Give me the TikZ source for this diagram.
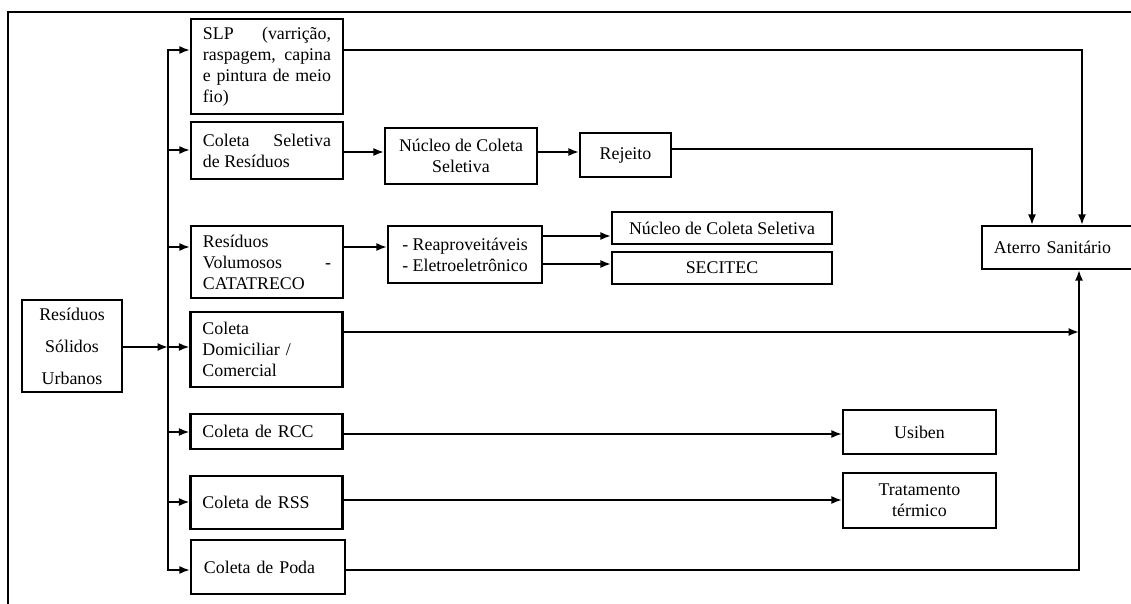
\documentclass[tikz,border=0pt]{standalone}
\usepackage{fontspec}
\setmainfont{Liberation Serif}
\usetikzlibrary{arrows.meta}

\begin{document}
\begin{tikzpicture}[x=0.025cm,y=-0.025cm,
        font=\fontsize{12.7}{15}\selectfont,
        caixa/.style={draw,line width=1.6pt,inner sep=0pt,align=center},
        ramo/.style={caixa,text width=3.2cm,inner xsep=0.3cm,align=left},
        seta/.style={line width=1.3pt,-{Latex[length=2.6mm,width=2mm]}},
        linha/.style={line width=1.3pt,line cap=rect}]
        \useasboundingbox (0,0) rectangle (1131,604);
        \clip (0,0) rectangle (1131,604);
        \draw[line width=0.9pt] (8,12) rectangle (1150,620);

        \node[caixa,minimum width=2.5cm,minimum height=2.3cm,font=\fontsize{12.7}{22.7}\selectfont] (rsu) at (72,346) {Resíduos\\Sólidos\\Urbanos};

        \node[ramo,align=justify,minimum height=2.375cm] (slp) at (267,66.5) {SLP (varrição,\linebreak raspagem, capina\linebreak e pintura de meio\linebreak fio)};
        \node[ramo,align=justify,minimum height=1.425cm] (cs) at (267,150.5) {Coleta Seletiva\linebreak de Resíduos};
        \node[ramo,align=justify,minimum height=1.8cm] (vol) at (267,262) {Resíduos\linebreak Volumosos -\linebreak CATATRECO};
        \node[ramo,minimum height=1.875cm] (dom) at (266.5,349.5) {Coleta\\Domiciliar /\\Comercial};
        \node[ramo,minimum height=0.875cm] (rcc) at (266.5,431.5) {Coleta de RCC};
        \node[ramo,minimum height=1.325cm] (rss) at (266.5,502.5) {Coleta de RSS};
        \node[ramo,minimum width=3.85cm,minimum height=1.35cm] (poda) at (268,567) {Coleta de Poda};

        \node[caixa,minimum width=3.8cm,minimum height=1.4cm] (ncs) at (461,156) {Núcleo de Coleta\\Seletiva};
        \node[caixa,minimum width=2.275cm,minimum height=1.1cm] (rej) at (625.5,155) {Rejeito};
        \node[caixa,align=left,minimum width=3.85cm,minimum height=1.425cm] (reap) at (465,254.5) {- Reaproveitáveis\\- Eletroeletrônico};
        \node[caixa,minimum width=5.5cm,minimum height=0.8cm] (ncs2) at (722,228) {Núcleo de Coleta Seletiva};
        \node[caixa,minimum width=5.5cm,minimum height=0.8cm] (sec) at (722,268) {SECITEC};
        \node[caixa,minimum width=3.825cm,minimum height=1.1cm] (usi) at (919.5,432) {Usiben};
        \node[caixa,minimum width=3.825cm,minimum height=1.375cm] (tt) at (919.5,500.5) {Tratamento\\térmico};
        \node[caixa,text width=3.35cm,inner xsep=0.3cm,align=left,minimum height=1.075cm] (ater) at (1061,247.5) {Aterro Sanitário};

        % tronco de distribuição
        \coordinate (ttop) at (168,50);
        \coordinate (tmid) at (168,347);
        \coordinate (tbot) at (168,570);
        \draw[linha] (ttop) -- (tbot);
        \draw[seta] (rsu.east |- tmid) -- (tmid);
        \foreach \n/\y in {slp/50,cs/150,vol/247,dom/347,rcc/432,rss/502,poda/570}
            \draw[seta] (168,\y) -- (\n.west |- 0,\y);

        \draw[seta] (cs.east |- 0,152) -- (ncs.west |- 0,152);
        \draw[seta] (ncs.east |- 0,152) -- (rej.west |- 0,152);
        \draw[seta] (vol.east |- 0,247) -- (reap.west |- 0,247);
        \draw[seta] (reap.east |- 0,236) -- (ncs2.west |- 0,236);
        \draw[seta] (reap.east |- 0,264) -- (sec.west |- 0,264);
        \draw[seta] (rcc.east |- 0,434) -- (usi.west |- 0,434);
        \draw[seta] (rss.east |- 0,500) -- (tt.west |- 0,500);

        % ligações ao aterro
        \coordinate (c1) at (1082,50);
        \coordinate (c2) at (1032,149);
        \coordinate (c3) at (1079,332);
        \coordinate (c4) at (1079,570);
        \draw[seta] (slp.east |- c1) -- (c1) -- (c1 |- ater.north);
        \draw[seta] (rej.east |- c2) -- (c2) -- (c2 |- ater.north);
        \draw[seta] (dom.east |- c3) -- (c3);
        \draw[seta] (poda.east |- c4) -- (c4) -- (c4 |- ater.south);
    \end{tikzpicture}
\end{document}
